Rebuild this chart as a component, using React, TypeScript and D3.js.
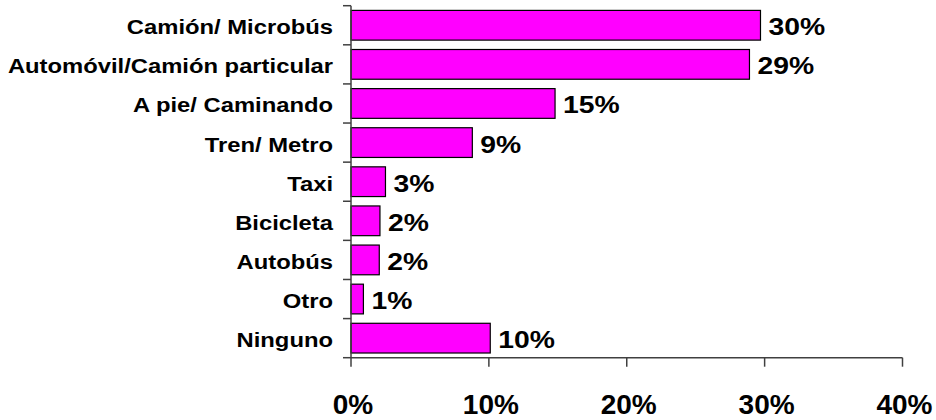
import React, { useEffect, useRef } from 'react';
import * as d3 from 'd3';

const categories = [
  'Camión/ Microbús',
  'Automóvil/Camión particular',
  'A pie/ Caminando',
  'Tren/ Metro',
  'Taxi',
  'Bicicleta',
  'Autobús',
  'Otro',
  'Ninguno',
];
const values = [29.7, 28.9, 14.8, 8.8, 2.5, 2.1, 2.05, 0.9, 10.1];
const valueLabels = ['30%', '29%', '15%', '9%', '3%', '2%', '2%', '1%', '10%'];
const xTicks = [0, 10, 20, 30, 40];

const App: React.FC = () => {
  const ref = useRef<SVGSVGElement | null>(null);

  useEffect(() => {
    const width = 936, height = 420;
    const svg = d3.select(ref.current)
      .attr('width', width)
      .attr('height', height);
    svg.selectAll('*').remove();

    const font = "'Liberation Sans', Arial, sans-serif";
    const axisColor = '#404040';

    const x = d3.scaleLinear().domain([0, 40]).range([351, 902.5]);
    const y = d3.scaleBand<string>()
      .domain(categories)
      .range([5.7, 357.7])
      .paddingInner(0.24)
      .paddingOuter(0.12);

    const g = svg.append('g');

    // bars
    categories.forEach((c, i) => {
      g.append('rect')
        .attr('x', x(0))
        .attr('y', y(c)!)
        .attr('width', x(values[i]) - x(0))
        .attr('height', y.bandwidth())
        .attr('fill', '#FF00FF')
        .attr('stroke', '#000')
        .attr('stroke-width', 1.2);

      // value label
      const cy = y(c)! + y.bandwidth() / 2;
      g.append('text')
        .attr('transform', `translate(${x(values[i]) + 8},${cy + 10}) scale(1.18,1)`)
        .style('font-family', font)
        .style('font-weight', 'bold')
        .style('font-size', '24px')
        .attr('fill', '#000')
        .text(valueLabels[i]);

      // category label
      g.append('text')
        .attr('transform', `translate(333,${cy + 9}) scale(1.19,1)`)
        .attr('text-anchor', 'end')
        .style('font-family', font)
        .style('font-weight', 'bold')
        .style('font-size', '20px')
        .attr('fill', '#000')
        .text(c);
    });

    // y axis line and ticks at band boundaries
    const y0 = y.range()[0], y1 = y.range()[1];
    g.append('line')
      .attr('x1', x(0)).attr('x2', x(0))
      .attr('y1', y0).attr('y2', y1)
      .attr('stroke', axisColor).attr('stroke-width', 1.5);
    for (let i = 0; i <= categories.length; i++) {
      const ty = y0 + i * y.step();
      g.append('line')
        .attr('x1', x(0) - 8).attr('x2', x(0))
        .attr('y1', ty).attr('y2', ty)
        .attr('stroke', axisColor).attr('stroke-width', 1.5);
    }

    // x axis
    g.append('line')
      .attr('x1', x(0)).attr('x2', x(40))
      .attr('y1', y1).attr('y2', y1)
      .attr('stroke', axisColor).attr('stroke-width', 1.5);
    xTicks.forEach(t => {
      g.append('line')
        .attr('x1', x(t)).attr('x2', x(t))
        .attr('y1', y1).attr('y2', y1 + 9)
        .attr('stroke', axisColor).attr('stroke-width', 1.5);
      g.append('text')
        .attr('x', x(t) + 2)
        .attr('y', 414)
        .attr('text-anchor', 'middle')
        .style('font-family', font)
        .style('font-weight', 'bold')
        .style('font-size', '28px')
        .attr('fill', '#000')
        .text(`${t}%`);
    });
  }, []);

  return (
    <svg ref={ref} style={{ position: 'absolute', left: 0, top: 0, background: '#fff' }}></svg>
  );
};

export default App;
